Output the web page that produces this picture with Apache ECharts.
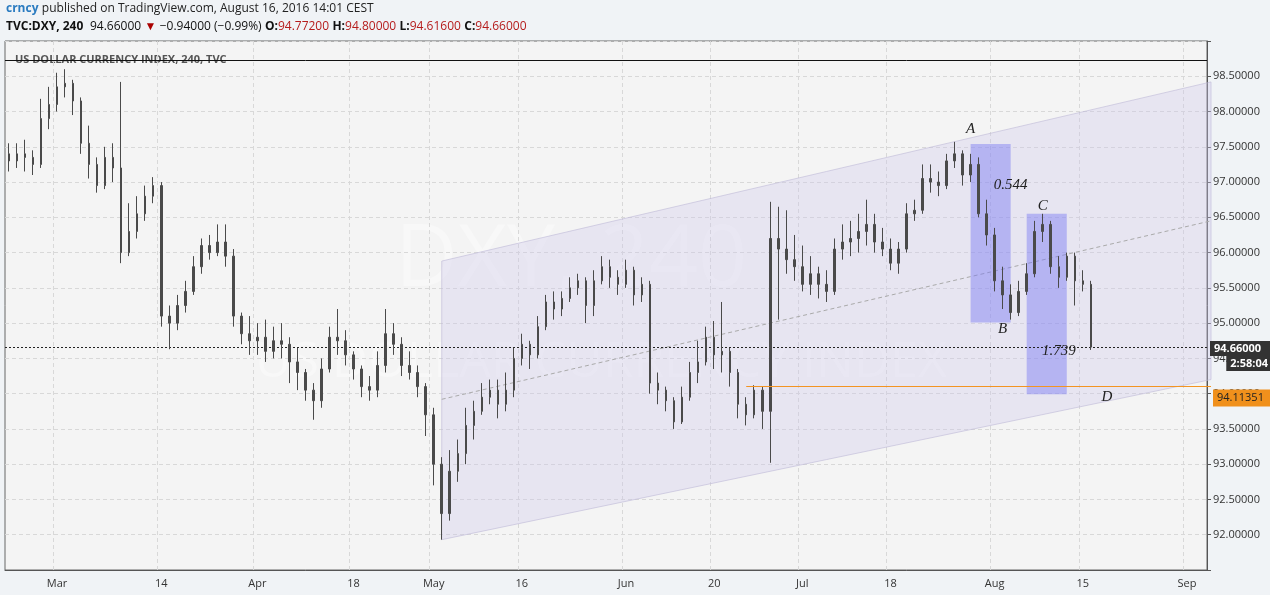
<!DOCTYPE html>
<html><head><meta charset="utf-8">
<script src="https://cdn.jsdelivr.net/npm/echarts@6/dist/echarts.min.js"></script>
<style>html,body{margin:0;padding:0;background:#f0f3f6}#c{width:1270px;height:595px}</style>
</head><body><div id="c"></div>
<script>
// ---- data (4h DXY, resampled to slots) ----
const opens = [97.40,97.30,97.40,97.35,97.25,97.90,98.10,98.35,98.40,98.15,97.55,97.25,96.95,97.35,97.20,96.00,96.30,96.55,96.80,96.95,95.10,95.00,95.25,95.45,95.80,96.10,96.00,96.15,95.95,95.10,94.85,94.75,94.80,94.60,94.75,94.70,94.45,94.30,94.05,93.90,94.35,94.80,94.75,94.55,94.35,94.10,94.05,94.40,94.85,94.70,94.40,94.30,94.10,93.70,93.00,92.30,92.90,93.15,93.55,93.75,93.95,94.05,93.85,94.05,94.50,94.70,94.55,94.95,95.30,95.20,95.35,95.50,95.60,95.25,95.60,95.80,95.65,95.55,95.75,95.40,95.55,94.15,94.05,93.90,93.60,93.95,94.30,94.45,94.80,94.55,94.60,94.30,93.85,93.70,94.05,93.75,96.20,96.05,95.90,95.80,95.55,95.70,95.55,95.45,96.05,96.15,96.20,96.30,96.40,96.15,96.05,95.85,96.05,96.55,96.60,97.05,97.00,96.95,97.30,97.40,97.10,97.25,96.55,96.25,95.60,95.40,95.15,95.45,95.70,96.30,96.40,95.80,95.65,95.95,95.60,95.55];
const closes = [97.30,97.40,97.35,97.25,97.90,98.10,98.35,98.40,98.15,97.55,97.25,96.95,97.35,97.20,96.00,96.30,96.55,96.80,96.95,95.10,95.00,95.25,95.45,95.80,96.10,96.00,96.15,95.95,95.10,94.85,94.75,94.80,94.60,94.75,94.70,94.45,94.30,94.05,93.90,94.35,94.80,94.75,94.55,94.35,94.10,94.05,94.40,94.85,94.70,94.40,94.30,94.10,93.70,93.00,92.30,92.90,93.15,93.55,93.75,93.95,94.05,93.85,94.05,94.50,94.70,94.55,94.95,95.30,95.20,95.35,95.50,95.60,95.25,95.60,95.80,95.65,95.55,95.75,95.40,95.55,94.15,94.05,93.90,93.60,93.95,94.30,94.45,94.80,94.55,94.60,94.30,93.85,93.70,94.05,93.75,96.20,96.05,95.90,95.80,95.55,95.70,95.55,95.45,96.05,96.15,96.20,96.30,96.40,96.15,96.05,95.85,96.05,96.55,96.60,97.05,97.00,96.95,97.30,97.40,97.10,97.25,96.55,96.25,95.60,95.40,95.15,95.45,95.70,96.30,96.40,95.80,95.65,95.95,95.60,95.55,94.66];
const lows = [97.15,97.20,97.15,97.10,97.20,97.75,98.00,98.20,97.95,97.40,97.05,96.85,96.90,97.00,95.85,95.95,96.20,96.45,96.70,94.95,94.63,94.90,95.15,95.40,95.70,95.90,95.95,95.80,94.95,94.70,94.55,94.55,94.45,94.50,94.50,94.15,94.05,93.90,93.63,93.80,94.30,94.55,94.40,94.20,93.95,93.90,93.95,94.30,94.55,94.25,94.20,93.95,93.40,92.70,91.93,92.20,92.75,93.00,93.35,93.70,93.85,93.65,93.75,93.95,94.40,94.35,94.50,94.90,95.05,95.10,95.30,95.40,95.00,95.10,95.55,95.50,95.40,95.50,95.25,95.30,94.00,93.85,93.75,93.50,93.57,93.90,94.15,94.40,94.35,94.30,94.10,93.65,93.55,93.65,93.50,93.02,95.05,95.70,95.60,95.45,95.40,95.35,95.30,95.40,95.90,95.95,96.00,96.10,96.00,95.95,95.75,95.70,96.00,96.45,96.55,96.85,96.80,96.90,97.20,96.95,97.00,96.50,96.10,95.45,95.20,95.05,95.10,95.40,95.65,96.15,95.70,95.50,95.60,95.25,95.45,94.62];
const highs = [97.55,97.55,97.60,97.45,98.18,98.35,98.55,98.60,98.45,98.20,97.80,97.35,97.50,97.55,98.42,96.70,96.80,96.95,97.07,97.00,95.25,95.40,95.60,95.95,96.20,96.25,96.40,96.40,96.05,95.15,95.10,95.00,95.05,94.95,95.00,94.80,94.65,94.35,94.15,94.50,94.95,95.20,94.90,94.60,94.40,94.25,94.60,95.20,95.00,94.80,94.60,94.40,94.15,93.80,93.10,93.20,93.35,93.80,93.90,94.15,94.20,94.20,94.30,94.65,94.85,94.75,95.10,95.40,95.45,95.45,95.65,95.70,95.65,95.75,95.95,95.90,95.75,95.90,95.80,95.65,95.60,94.30,94.10,93.95,94.10,94.45,94.75,94.95,95.03,95.30,94.65,94.35,93.95,94.12,94.10,96.72,96.65,96.60,96.25,96.10,95.95,95.80,95.75,96.20,96.40,96.45,96.55,96.75,96.55,96.35,96.20,96.15,96.70,96.75,97.25,97.25,97.15,97.40,97.57,97.45,97.40,97.35,96.75,96.35,95.80,95.55,95.60,95.85,96.45,96.55,96.45,95.95,96.00,96.00,95.75,95.60];
const slotCount = 150;
const tickLabels = [[6,'Mar'],[19,'14'],[31,'Apr'],[43,'18'],[53,'May'],[64,'16'],[77,'Jun'],[88,'20'],[99,'Jul'],[110,'18'],[123,'Aug'],[134,'15'],[147,'Sep']];
const channelLow = [[53.9,91.93],[149.5,94.20]];
const channelHigh = [[53.9,95.88],[149.5,98.42]];
const channelMid = [[53.9,93.92],[149.5,96.45]];
const boxes = [[120.1,97.54,124.5,95.01],[127.4,96.55,131.75,93.99]];
const orangeLevel = [92.4, 149.5, 94.11351];
const lastPrice = 94.66;
const topLine = 98.72;
const notes = [['A',119.9,97.75],['B',124.25,94.91],['C',129.4,96.66],['D',136.5,93.95],['0.544',124.75,96.96],['1.739',130.5,94.61]];

const cats = Array.from({length: slotCount}, (_, i) => String(i));
const tickMap = {}; tickLabels.forEach(t => tickMap[t[0]] = t[1]);
const candles = opens.map((o, i) => [o, closes[i], lows[i], highs[i]]);

const chart = echarts.init(document.getElementById('c'));
const FONT = 'Open Sans, Noto Sans, sans-serif';
chart.setOption({
  animation: false,
  backgroundColor: '#f0f3f6',
  grid: {left: 5, right: 63, top: 41, bottom: 25, show: true, backgroundColor: '#f4f4f4', borderColor: '#666', borderWidth: 1},
  xAxis: {
    type: 'category', data: cats, boundaryGap: true,
    axisLine: {lineStyle: {color: '#555'}},
    axisTick: {interval: (i) => tickMap[i] !== undefined, lineStyle: {color: '#555'}},
    axisLabel: {interval: (i) => tickMap[i] !== undefined, formatter: (v) => tickMap[+v] || '', color: '#333', fontSize: 11, fontFamily: FONT},
    splitLine: {show: true, interval: (i) => tickMap[i] !== undefined, lineStyle: {color: '#d8d8d8', type: [4, 3]}}
  },
  yAxis: {
    type: 'value', position: 'right', min: 91.5, max: 99, interval: 0.5, scale: true,
    axisLine: {show: true, lineStyle: {color: '#555'}},
    axisTick: {show: true, length: 4, lineStyle: {color: '#555'}},
    axisLabel: {formatter: (v) => (v < 91.9 || v > 98.9) ? '' : v.toFixed(5), color: '#333', fontSize: 11, fontFamily: FONT, margin: 6},
    splitLine: {lineStyle: {color: '#d8d8d8', type: [4, 3]}}
  },
  graphic: [
    {type: 'text', left: 395, top: 218, z: 0, style: {text: 'DXY, 240', font: '86px ' + FONT, fill: 'rgba(255,255,255,0.35)'}},
    {type: 'text', left: 255, top: 338, z: 0, style: {text: 'US DOLLAR CURRENCY INDEX', font: '50px ' + FONT, fill: 'rgba(255,255,255,0.35)'}},
    {type: 'text', left: 6, top: 3, style: {rich: {u: {fill: '#2a7bc0', fontWeight: 'bold', fontSize: 12, fontFamily: FONT}, t: {fill: '#222', fontSize: 12, fontFamily: FONT}}, text: '{u|crncy} {t|published on TradingView.com, August 16, 2016 14:01 CEST}'}},
    {type: 'text', left: 6, top: 21, style: {rich: {
      b: {fill: '#111', fontWeight: 'bold', fontSize: 12, fontFamily: FONT},
      t: {fill: '#111', fontSize: 12, fontFamily: FONT},
      r: {fill: '#b51c1c', fontSize: 12, fontFamily: FONT},
      a: {fill: '#a00', fontSize: 12, fontFamily: FONT}},
      text: '{b|TVC:DXY, 240}  {t|94.66000} {a|▼} {t|−0.94000 (−0.99%)} {b|O:}{r|94.77200} {b|H:}{r|94.80000} {b|L:}{r|94.61600} {b|C:}{r|94.66000}'}},
    {type: 'text', left: 15, top: 54, style: {text: 'US DOLLAR CURRENCY INDEX, 240, TVC', font: 'bold 11px ' + FONT, fill: '#555'}}
  ],
  series: [
    {
      type: 'custom', z: 1, silent: true,
      renderItem: (params, api) => {
        const p = [api.coord(channelLow[0]), api.coord(channelLow[1]), api.coord(channelHigh[1]), api.coord(channelHigh[0])];
        const m0 = api.coord(channelMid[0]), m1 = api.coord(channelMid[1]);
        return {type: 'group', children: [
          {type: 'polygon', shape: {points: p}, style: {fill: 'rgba(205,200,235,0.35)', stroke: 'rgba(190,185,215,0.6)', lineWidth: 1}},
          {type: 'line', shape: {x1: m0[0], y1: m0[1], x2: m1[0], y2: m1[1]}, style: {stroke: '#aaa', lineDash: [4, 3], lineWidth: 1}}
        ]};
      },
      data: [0]
    },
    {
      type: 'custom', z: 2, silent: true,
      renderItem: (params, api) => {
        const b = boxes[params.dataIndex];
        const a = api.coord([b[0], b[1]]), c = api.coord([b[2], b[3]]);
        return {type: 'rect', shape: {x: a[0], y: a[1], width: c[0] - a[0], height: c[1] - a[1]}, style: {fill: 'rgba(120,120,245,0.45)'}};
      },
      data: boxes.map((b, i) => i)
    },
    {
      type: 'custom', z: 7, silent: true, clip: false,
      renderItem: (params, api) => {
        const a = api.coord([orangeLevel[0], orangeLevel[2]]), b = api.coord([orangeLevel[1], orangeLevel[2]]);
        const y = Math.round(a[1]) + 0.5;
        return {type: 'group', children: [
          {type: 'line', shape: {x1: a[0], y1: y, x2: b[0], y2: y}, style: {stroke: '#f39422', lineWidth: 1}},
          {type: 'rect', shape: {x: b[0] + 2, y: y + 3, width: 58, height: 17}, style: {fill: '#f0901c'}},
          {type: 'text', x: b[0] + 6, y: y + 11.5, style: {text: orangeLevel[2].toFixed(5), font: '11px ' + FONT, fill: '#222', verticalAlign: 'middle'}}
        ]};
      },
      data: [0]
    },
    {
      type: 'candlestick', z: 5, data: candles, barMaxWidth: 2,
      itemStyle: {color: '#4a4a4a', color0: '#4a4a4a', borderColor: '#4a4a4a', borderColor0: '#4a4a4a', borderWidth: 1},
      markLine: {
        symbol: 'none', silent: true, animation: false,
        data: [
          {yAxis: lastPrice, lineStyle: {color: '#222', type: [2, 2], width: 1},
           label: {position: 'end', distance: 3, offset: [0, 9], formatter: '{a|94.66000}\n{b|2:58:04}',
             rich: {a: {backgroundColor: '#333', color: '#fff', fontSize: 11, fontWeight: 'bold', fontFamily: FONT, padding: [2, 4], width: 54},
                    b: {backgroundColor: '#333', color: '#fff', fontSize: 11, fontWeight: 'bold', fontFamily: FONT, padding: [2, 4], align: 'right'}}}},
          {yAxis: topLine, lineStyle: {color: '#111', type: 'solid', width: 1}, label: {show: false}}
        ]
      }
    },
    {
      type: 'custom', z: 6, silent: true,
      renderItem: (params, api) => {
        const n = notes[params.dataIndex];
        const p = api.coord([n[1], n[2]]);
        return {type: 'text', x: p[0], y: p[1], style: {text: n[0], font: 'italic 15px "Liberation Serif", "DejaVu Serif", serif', fill: '#222', align: 'center', verticalAlign: 'middle'}};
      },
      data: notes.map((n, i) => i)
    }
  ]
});
</script></body></html>
